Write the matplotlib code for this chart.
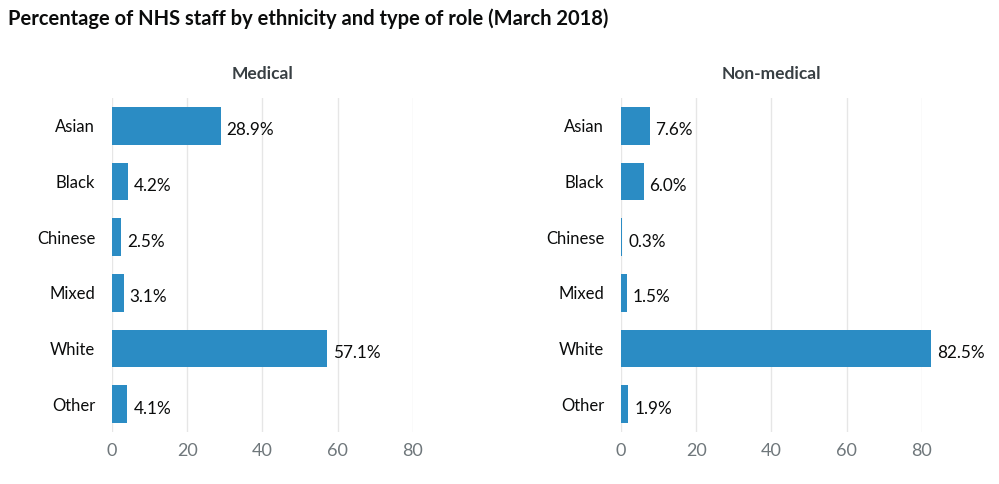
import matplotlib.pyplot as plt

categories = ["Asian", "Black", "Chinese", "Mixed", "White", "Other"]
medical = [28.9, 4.2, 2.5, 3.1, 57.1, 4.1]
non_medical = [7.6, 6.0, 0.3, 1.5, 82.5, 1.9]
panel_titles = ["Medical", "Non-medical"]
xticks = [0, 20, 40, 60, 80]

plt.rcParams['font.family'] = ['Lato', 'DejaVu Sans']

fig = plt.figure(figsize=(9.99, 4.84), dpi=100)
fig.text(0.008, 0.962, "Percentage of NHS staff by ethnicity and type of role (March 2018)",
         fontsize=14.5, fontweight='bold', color='#0b0c0c', va='center', ha='left')

positions = [[0.1121, 0.1074, 0.3013, 0.6901], [0.6216, 0.1074, 0.3013, 0.6901]]

for pos, values, title in zip(positions, [medical, non_medical], panel_titles):
    ax = fig.add_axes(pos)
    y = range(len(categories))
    bars = ax.barh(y, values, height=0.68, color='#2b8cc4', linewidth=0, zorder=3)
    for b in bars:
        b.set_clip_on(False)
    for yi, v in zip(y, values):
        ax.text(v + 1.6, yi + 0.08, f"{v:.1f}%", va='center', ha='left',
                fontsize=12.3, color='#0b0c0c', clip_on=False)
    ax.set_xlim(0, 80)
    ax.set_ylim(len(categories) - 0.5, -0.5)
    ax.set_yticks(list(y))
    ax.set_yticklabels(categories, fontsize=12, color='#0b0c0c')
    ax.set_xticks(xticks)
    ax.set_xticklabels([str(t) for t in xticks], fontsize=13, color='#6f777b')
    ax.tick_params(axis='both', length=0)
    ax.tick_params(axis='y', pad=12)
    ax.tick_params(axis='x', pad=8)
    ax.grid(axis='x', color='#e6e6e6', linewidth=1, zorder=0)
    ax.set_axisbelow(True)
    for s in ax.spines.values():
        s.set_visible(False)
    ax.set_title(title, fontsize=12.5, fontweight='bold', color='#383f43', pad=14)

fig.savefig("out.png", dpi=100)
